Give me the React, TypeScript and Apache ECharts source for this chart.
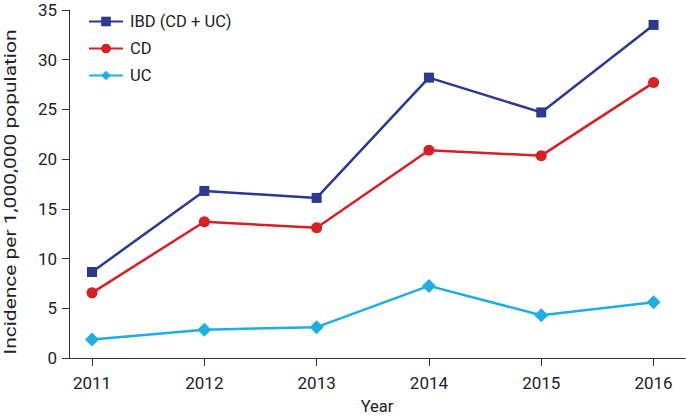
import React, { useEffect, useRef } from "react";
import * as echarts from "echarts";

const years = [2011, 2012, 2013, 2014, 2015, 2016];
const ibd = [8.65, 16.8, 16.1, 28.2, 24.7, 33.5];
const cd = [6.55, 13.7, 13.1, 20.9, 20.35, 27.7];
const uc = [1.85, 2.85, 3.1, 7.25, 4.3, 5.6];
const yTicks = [0, 5, 10, 15, 20, 25, 30, 35];
const yTitle = "Incidence per 1,000,000 population";
const xTitle = "Year";

const FONT = "Roboto";

export default function App() {
  const ref = useRef<HTMLDivElement>(null);
  useEffect(() => {
    const chart = echarts.init(ref.current!, null, { renderer: "svg" });
    const pair = (arr: number[]) => years.map((y, i) => [y, arr[i]]);
    chart.setOption({
      animation: false,
      textStyle: { fontFamily: FONT },
      grid: { left: 69, right: 1, top: 10, bottom: 60, containLabel: false, outerBoundsMode: "none" },
      legend: {
        orient: "vertical",
        left: 83,
        top: 8,
        padding: 5,
        itemWidth: 34,
        itemHeight: 12,
        itemGap: 10,
        textStyle: { fontFamily: FONT, fontSize: 16.5, color: "#222", padding: [0, 0, 0, 2] },
        data: ["IBD (CD + UC)", "CD", "UC"],
      },
      graphic: [
        {
          type: "text",
          x: 11,
          y: 192,
          rotation: Math.PI / 2,
          scaleX: 1.27,
          style: {
            text: yTitle,
            fontFamily: FONT,
            fontSize: 16.5,
            fill: "#222",
            align: "center",
            verticalAlign: "middle",
          },
        },
      ],
      xAxis: {
        type: "value",
        min: 2010.795,
        max: 2016.28,
        name: xTitle,
        nameLocation: "middle",
        nameGap: 40,
        nameTextStyle: { fontFamily: FONT, fontSize: 16.5, color: "#222" },
        axisLine: { show: true, lineStyle: { color: "#333", width: 1 } },
        axisTick: { show: true, length: 8, customValues: years, lineStyle: { color: "#333" } },
        axisLabel: {
          customValues: years,
          fontFamily: FONT,
          fontSize: 17,
          color: "#222",
          margin: 16,
          formatter: (v: number) => String(v),
        },
        splitLine: { show: false },
      },
      yAxis: {
        type: "value",
        min: 0,
        max: 35,
        interval: 5,
        axisLine: { show: true, lineStyle: { color: "#333", width: 1 } },
        axisTick: { show: true, length: 7, lineStyle: { color: "#333" } },
        axisLabel: {
          fontFamily: FONT,
          fontSize: 17,
          color: "#222",
          margin: 12,
          customValues: yTicks,
        },
        splitLine: { show: false },
      },
      series: [
        {
          name: "IBD (CD + UC)",
          type: "line",
          data: pair(ibd),
          symbol: "rect",
          symbolSize: 10,
          itemStyle: { color: "#2b3990" },
          lineStyle: { color: "#2b3990", width: 2.5 },
        },
        {
          name: "CD",
          type: "line",
          data: pair(cd),
          symbol: "circle",
          symbolSize: 11,
          itemStyle: { color: "#d71f26" },
          lineStyle: { color: "#d71f26", width: 2.5 },
        },
        {
          name: "UC",
          type: "line",
          data: pair(uc),
          symbol: "diamond",
          symbolSize: 14,
          itemStyle: { color: "#1eaee4" },
          lineStyle: { color: "#1eaee4", width: 2.5 },
        },
      ],
    });
    return () => chart.dispose();
  }, []);
  return <div ref={ref} style={{ width: 686, height: 418, position: "absolute", left: 0, top: 0 }} />;
}
